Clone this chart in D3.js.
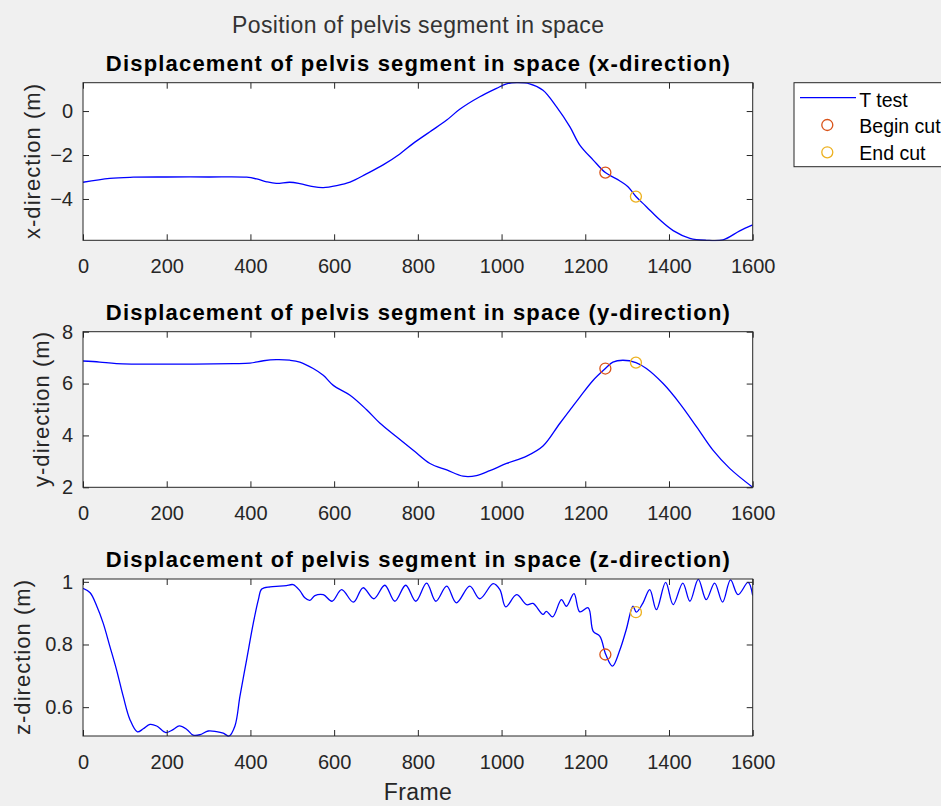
<!DOCTYPE html>
<html>
<head>
<meta charset="utf-8">
<script src="https://cdn.jsdelivr.net/npm/d3@7"></script>
<style>
  html, body { margin: 0; padding: 0; background: #f0f0f0; }
  svg { display: block; }
</style>
</head>
<body>
<div id="figuur"></div>
<script>
// gegevens
const frameTicks = [0, 200, 400, 600, 800, 1000, 1200, 1400, 1600];

const xFrames = [0, 64, 120, 200, 300, 391, 415, 439, 462, 494, 518, 550, 574, 606, 638, 677, 717, 757,
  789, 829, 869, 900, 948, 988, 1012, 1036, 1067, 1099, 1131, 1163, 1187, 1219, 1248, 1282, 1302, 1321,
  1346, 1378, 1410, 1450, 1489, 1529, 1569, 1600];
const xValues = [-3.24, -3.06, -3.01, -3.0, -3.0, -3.01, -3.09, -3.22, -3.29, -3.24, -3.30, -3.44, -3.48, -3.39,
  -3.23, -2.86, -2.45, -1.95, -1.47, -0.94, -0.41, 0.08, 0.65, 1.03, 1.24, 1.29, 1.24, 0.95, 0.2, -0.71,
  -1.55, -2.23, -2.80, -3.17, -3.44, -3.89, -4.35, -4.95, -5.44, -5.79, -5.88, -5.86, -5.45, -5.18];

const yFrames = [0, 40, 80, 200, 359, 399, 431, 462, 494, 518, 550, 574, 598, 638, 677, 709, 749, 789, 829,
  869, 908, 940, 972, 1012, 1060, 1099, 1139, 1187, 1219, 1248, 1266, 1290, 1321, 1346, 1386, 1426, 1466,
  1505, 1545, 1600];
const yValues = [6.87, 6.83, 6.77, 6.75, 6.77, 6.79, 6.88, 6.92, 6.90, 6.83, 6.58, 6.32, 5.93, 5.55, 5.00,
  4.48, 3.95, 3.43, 2.92, 2.67, 2.43, 2.45, 2.64, 2.92, 3.20, 3.59, 4.46, 5.48, 6.13, 6.58, 6.83, 6.90,
  6.81, 6.58, 6.00, 5.23, 4.33, 3.43, 2.73, 2.00];

const zFrames = [0, 17, 33, 48, 64, 80, 96, 112, 130, 144, 160, 176, 198, 216, 230, 248, 263, 279, 299, 319,
  335, 349, 363, 375, 391, 407, 419, 427, 447, 470, 486, 502, 518, 530, 542, 554, 574, 595, 618, 646, 669,
  695, 721, 745, 771, 795, 821, 843, 869, 892, 924, 948, 980, 996, 1010, 1036, 1060, 1075, 1099, 1107,
  1122, 1143, 1155, 1173, 1187, 1207, 1219, 1235, 1249, 1265, 1283, 1298, 1314, 1322, 1338, 1354, 1370,
  1392, 1410, 1433, 1450, 1470, 1489, 1509, 1528, 1547, 1565, 1589, 1600];
const zValues = [0.979, 0.965, 0.922, 0.869, 0.795, 0.72, 0.635, 0.561, 0.521, 0.531, 0.545, 0.54, 0.519,
  0.529, 0.54, 0.529, 0.511, 0.512, 0.524, 0.522, 0.517, 0.508, 0.54, 0.635, 0.752, 0.869, 0.943, 0.977,
  0.984, 0.986, 0.988, 0.991, 0.972, 0.949, 0.941, 0.956, 0.959, 0.938, 0.975, 0.935, 0.981, 0.946, 0.989,
  0.938, 0.989, 0.938, 0.996, 0.938, 0.986, 0.933, 0.986, 0.946, 0.994, 0.975, 0.92, 0.959, 0.927, 0.931,
  0.896, 0.906, 0.888, 0.943, 0.922, 0.962, 0.904, 0.917, 0.842, 0.826, 0.768, 0.731, 0.784, 0.848, 0.922,
  0.903, 0.933, 0.975, 0.911, 0.998, 0.927, 0.996, 0.938, 1.008, 0.943, 0.996, 0.935, 1.006, 0.959, 0.998,
  0.956];

const cutFrames = [1248, 1321];
const xCut = [-2.80, -3.89];
const yCut = [6.58, 6.81];
const zCut = [0.768, 0.903];
const cutNames = ["Begin cut", "End cut"];
const seriesName = "T test";

const xTicks = [-4, -2, 0];
const yTicks = [2, 4, 6, 8];
const zTicks = [0.6, 0.8, 1];

const titels = [
  "Displacement of pelvis segment in space (x-direction)",
  "Displacement of pelvis segment in space (y-direction)",
  "Displacement of pelvis segment in space (z-direction)"
];
const yLabels = ["x-direction (m)", "y-direction (m)", "z-direction (m)"];

// stijl
const lettertype = '"Liberation Sans", Arial, Helvetica, sans-serif';
const asKleur = "#262626";
const lijnKleur = "#0000ff";
const cutKleuren = ["#d95319", "#edb120"];

const breedte = 941, hoogte = 806;
const links = 83, rechts = 752.7;

const svg = d3.select("#figuur")
  .append("svg")
  .attr("width", breedte)
  .attr("height", hoogte)
  .attr("font-family", lettertype);

svg.append("rect").attr("width", breedte).attr("height", hoogte).attr("fill", "#f0f0f0");

svg.append("text")
  .attr("x", 418).attr("y", 33)
  .attr("text-anchor", "middle")
  .attr("font-size", 23)
  .attr("textLength", 372).attr("lengthAdjust", "spacing")
  .attr("fill", "#333333")
  .text("Position of pelvis segment in space");

const x = d3.scaleLinear().domain([0, 1600]).range([links, rechts]);

const panelen = [
  { frames: xFrames, values: xValues, cut: xCut, domain: [-5.88, 1.29], ticks: xTicks,
    top: 82.7, bottom: 240.3, titleY: 71, labelX: 40 },
  { frames: yFrames, values: yValues, cut: yCut, domain: [2, 8], ticks: yTicks,
    top: 331.7, bottom: 487.3, titleY: 319.5, labelX: 48.5 },
  { frames: zFrames, values: zValues, cut: zCut, domain: [0.508, 1.009], ticks: zTicks,
    top: 579, bottom: 736, titleY: 566.5, labelX: 30 }
];

function asStijl(sel) {
  sel.attr("font-family", lettertype).attr("font-size", 20);
  sel.select(".domain").remove();
  sel.selectAll("line").attr("stroke", asKleur);
  sel.selectAll("text").attr("fill", asKleur);
}

panelen.forEach((p, i) => {
  const y = d3.scaleLinear().domain(p.domain).range([p.bottom, p.top]);
  const g = svg.append("g");

  g.append("rect")
    .attr("x", links).attr("y", p.top)
    .attr("width", rechts - links).attr("height", p.bottom - p.top)
    .attr("fill", "#ffffff");

  const clipId = "clip" + i;
  svg.append("clipPath").attr("id", clipId)
    .append("rect")
    .attr("x", links).attr("y", p.top - 1)
    .attr("width", rechts - links).attr("height", p.bottom - p.top + 2);

  const lijn = d3.line()
    .x(d => x(d[0]))
    .y(d => y(d[1]))
    .curve(d3.curveCatmullRom.alpha(0.5));

  g.append("path")
    .datum(d3.zip(p.frames, p.values))
    .attr("clip-path", `url(#${clipId})`)
    .attr("fill", "none")
    .attr("stroke", lijnKleur)
    .attr("stroke-width", 1.3)
    .attr("d", lijn);

  g.selectAll("circle.cut")
    .data(d3.zip(cutFrames, p.cut))
    .enter()
    .append("circle")
    .attr("class", "cut")
    .attr("cx", d => x(d[0]))
    .attr("cy", d => y(d[1]))
    .attr("r", 5.5)
    .attr("fill", "none")
    .attr("stroke", (_, j) => cutKleuren[j])
    .attr("stroke-width", 1.3);

  g.append("g")
    .attr("transform", `translate(0,${p.bottom})`)
    .call(d3.axisBottom(x).tickValues(frameTicks).tickSizeInner(-6).tickSizeOuter(0).tickPadding(19)
      .tickFormat(d3.format("d")))
    .call(asStijl);

  g.append("g")
    .attr("transform", `translate(0,${p.top})`)
    .call(d3.axisTop(x).tickValues(frameTicks).tickSizeInner(-6).tickSizeOuter(0).tickFormat(""))
    .call(asStijl);

  g.append("g")
    .attr("transform", `translate(${links},0)`)
    .call(d3.axisLeft(y).tickValues(p.ticks).tickSizeInner(-6).tickSizeOuter(0).tickPadding(10)
      .tickFormat(d3.format("")))
    .call(asStijl);

  g.append("g")
    .attr("transform", `translate(${rechts},0)`)
    .call(d3.axisRight(y).tickValues(p.ticks).tickSizeInner(-6).tickSizeOuter(0).tickFormat(""))
    .call(asStijl);

  g.append("rect")
    .attr("x", links).attr("y", p.top)
    .attr("width", rechts - links).attr("height", p.bottom - p.top)
    .attr("fill", "none")
    .attr("stroke", asKleur)
    .attr("stroke-width", 1);

  g.append("text")
    .attr("x", (links + rechts) / 2).attr("y", p.titleY)
    .attr("text-anchor", "middle")
    .attr("font-size", 22)
    .attr("font-weight", "bold")
    .attr("textLength", 624).attr("lengthAdjust", "spacing")
    .attr("fill", "#000000")
    .text(titels[i]);

  g.append("text")
    .attr("transform", `translate(${p.labelX},${(p.top + p.bottom) / 2}) rotate(-90)`)
    .attr("text-anchor", "middle")
    .attr("font-size", 22)
    .attr("textLength", 155).attr("lengthAdjust", "spacing")
    .attr("fill", asKleur)
    .text(yLabels[i]);
});

svg.append("text")
  .attr("x", (links + rechts) / 2).attr("y", 800)
  .attr("text-anchor", "middle")
  .attr("font-size", 23)
  .attr("textLength", 68).attr("lengthAdjust", "spacing")
  .attr("fill", asKleur)
  .text("Frame");

// legenda
const legenda = svg.append("g").attr("font-family", lettertype).attr("font-size", 19.5);
legenda.append("rect")
  .attr("x", 794).attr("y", 82.7).attr("width", 170).attr("height", 84)
  .attr("fill", "#ffffff").attr("stroke", asKleur).attr("stroke-width", 1);
legenda.append("line")
  .attr("x1", 800).attr("x2", 856).attr("y1", 97.7).attr("y2", 97.7)
  .attr("stroke", lijnKleur).attr("stroke-width", 1.3);
legenda.append("text").attr("x", 859.3).attr("y", 106.5).attr("fill", "#000").text(seriesName);
legenda.selectAll("circle")
  .data(cutNames)
  .enter()
  .append("circle")
  .attr("cx", 827.3)
  .attr("cy", (_, j) => 125 + j * 27.3)
  .attr("r", 5.5)
  .attr("fill", "none")
  .attr("stroke", (_, j) => cutKleuren[j])
  .attr("stroke-width", 1.3);
legenda.selectAll("text.naam")
  .data(cutNames)
  .enter()
  .append("text")
  .attr("class", "naam")
  .attr("x", 859.3)
  .attr("y", (_, j) => 133.3 + j * 26.7)
  .attr("fill", "#000")
  .text(d => d);
</script>
</body>
</html>
